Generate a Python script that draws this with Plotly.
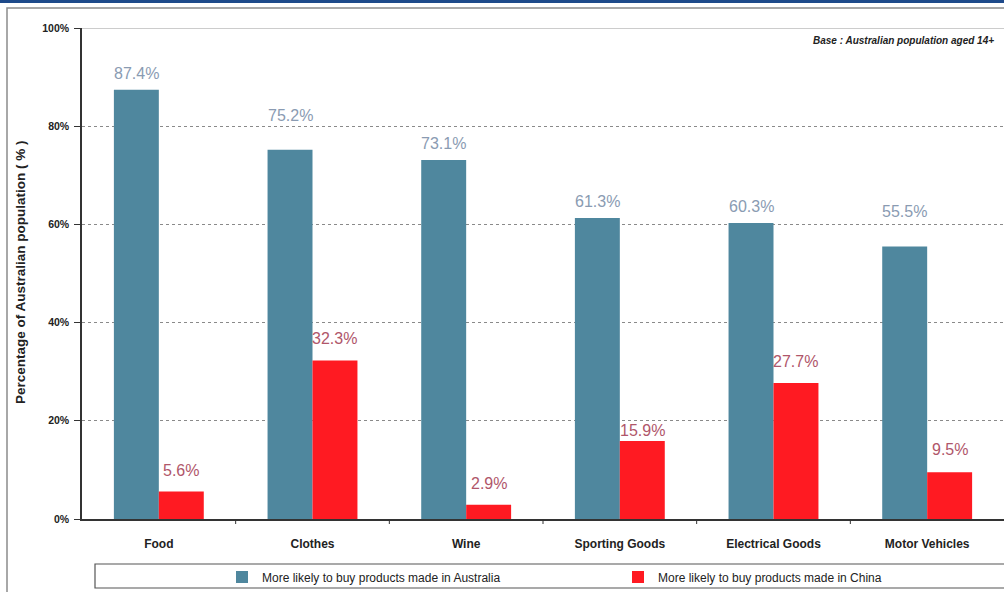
import plotly.graph_objects as go

categories = ["Food", "Clothes", "Wine", "Sporting Goods", "Electrical Goods", "Motor Vehicles"]
australia = [87.4, 75.2, 73.1, 61.3, 60.3, 55.5]
china = [5.6, 32.3, 2.9, 15.9, 27.7, 9.5]
series_names = ["More likely to buy products made in Australia",
                "More likely to buy products made in China"]
y_ticks = [0, 20, 40, 60, 80, 100]
y_tick_labels = ["0%", "20%", "40%", "60%", "80%", "100%"]

W, H = 1004, 592
L, R, T, B = 82, 0, 28, 73
PW, PH = W - L - R, H - T - B

def px(x):
    return (x - L) / PW

def py(y):
    return (H - B - y) / PH

BLUE, RED = "#4F879E", "#FF1A22"
BLUE_TXT, RED_TXT = "#8A9BB2", "#B0566A"

# label placement (style): pixel lift of each value label above its bar
blue_lift = {"Food": 6, "Clothes": 24, "Wine": 6, "Sporting Goods": 6,
             "Electrical Goods": 6, "Motor Vehicles": 25}
red_lift = {"Food": 11, "Clothes": 11, "Wine": 11, "Sporting Goods": 0,
            "Electrical Goods": 11, "Motor Vehicles": 12}

fig = go.Figure()
fig.add_trace(go.Bar(x=categories, y=australia, name=series_names[0],
                     marker=dict(color=BLUE, line=dict(width=0))))
fig.add_trace(go.Bar(x=categories, y=china, name=series_names[1],
                     marker=dict(color=RED, line=dict(width=0))))

annotations = []
half = PW / len(categories) * (1 - 0.415) / 4
for cat, a, c in zip(categories, australia, china):
    annotations.append(dict(x=cat, y=a, xref="x", yref="y", text="%.1f%%" % a, showarrow=False,
                            xshift=-half, yshift=blue_lift[cat], yanchor="bottom", xanchor="center",
                            font=dict(family="Liberation Sans, Arial", size=16, color=BLUE_TXT)))
    annotations.append(dict(x=cat, y=c, xref="x", yref="y", text="%.1f%%" % c, showarrow=False,
                            xshift=half, yshift=red_lift[cat], yanchor="bottom", xanchor="center",
                            font=dict(family="Liberation Sans, Arial", size=16, color=RED_TXT)))

annotations += [
    dict(text="<b><i>Base : Australian population aged 14+</i></b>", xref="paper", yref="paper",
         x=px(996), y=py(40), xanchor="right", yanchor="middle", showarrow=False,
         font=dict(size=10, family="Liberation Sans, Arial", color="#222222")),
    dict(text="<b>Percentage of Australian population ( % )</b>", xref="paper", yref="paper",
         x=px(20), y=py(272), xanchor="center", yanchor="middle", textangle=-90, showarrow=False,
         font=dict(size=13.5, family="Liberation Sans, Arial", color="#222222")),
]

shapes = [
    dict(type="rect", xref="paper", yref="paper", x0=px(-5), x1=px(W + 5), y0=py(3), y1=py(-5),
         fillcolor="#1E4A8A", line=dict(width=0), layer="above"),
    dict(type="rect", xref="paper", yref="paper", x0=px(7), x1=px(W + 20), y0=py(H + 20), y1=py(8),
         fillcolor="rgba(0,0,0,0)", line=dict(color="#8C8C8C", width=1.5), layer="below"),
    dict(type="rect", xref="paper", yref="paper", x0=px(95), x1=px(W + 20), y0=py(588), y1=py(564),
         fillcolor="rgba(0,0,0,0)", line=dict(color="#555555", width=1.2), layer="above"),
    dict(type="line", xref="paper", yref="y", x0=0, x1=1, y0=100, y1=100,
         line=dict(color="#9A9A9A", width=1)),
]
for i in range(1, len(categories)):
    shapes.append(dict(type="line", xref="x", yref="paper", x0=i - 0.5, x1=i - 0.5,
                       y0=0, y1=py(H - B + 5), line=dict(color="#333333", width=1)))

fig.update_layout(
    width=W, height=H,
    margin=dict(l=L, r=R, t=T, b=B, pad=0, autoexpand=False),
    paper_bgcolor="white", plot_bgcolor="white",
    barmode="group", bargap=0.415, bargroupgap=0,
    font=dict(family="Liberation Sans, Arial", color="#222222"),
    xaxis=dict(
        showline=True, linecolor="#333333", linewidth=1.5,
        ticks="", tickvals=categories, ticktext=["<b>%s</b>" % c for c in categories],
        tickfont=dict(size=12, family="Liberation Sans, Arial", color="#222222"),
        ticklabelstandoff=13, showgrid=False, fixedrange=True,
    ),
    yaxis=dict(
        range=[0, 100], tickvals=y_ticks, ticktext=["<b>%s</b>" % t for t in y_tick_labels],
        showline=True, linecolor="#333333", linewidth=1.5,
        ticks="outside", ticklen=6, tickcolor="#333333", ticklabelstandoff=3,
        tickfont=dict(size=10.5, family="Liberation Sans, Arial", color="#222222"),
        showgrid=True, gridcolor="#8A8A8A", griddash="dot", gridwidth=1,
        zeroline=False, fixedrange=True,
    ),
    showlegend=True,
    legend=dict(
        orientation="h", x=px(222), y=py(577), xanchor="left", yanchor="middle",
        entrywidth=351, entrywidthmode="pixels", itemwidth=30,
        font=dict(size=12, family="Liberation Sans, Arial", color="#222222"),
        bgcolor="rgba(0,0,0,0)", borderwidth=0,
    ),
    shapes=shapes,
    annotations=annotations,
)

fig.write_html("out.html")
